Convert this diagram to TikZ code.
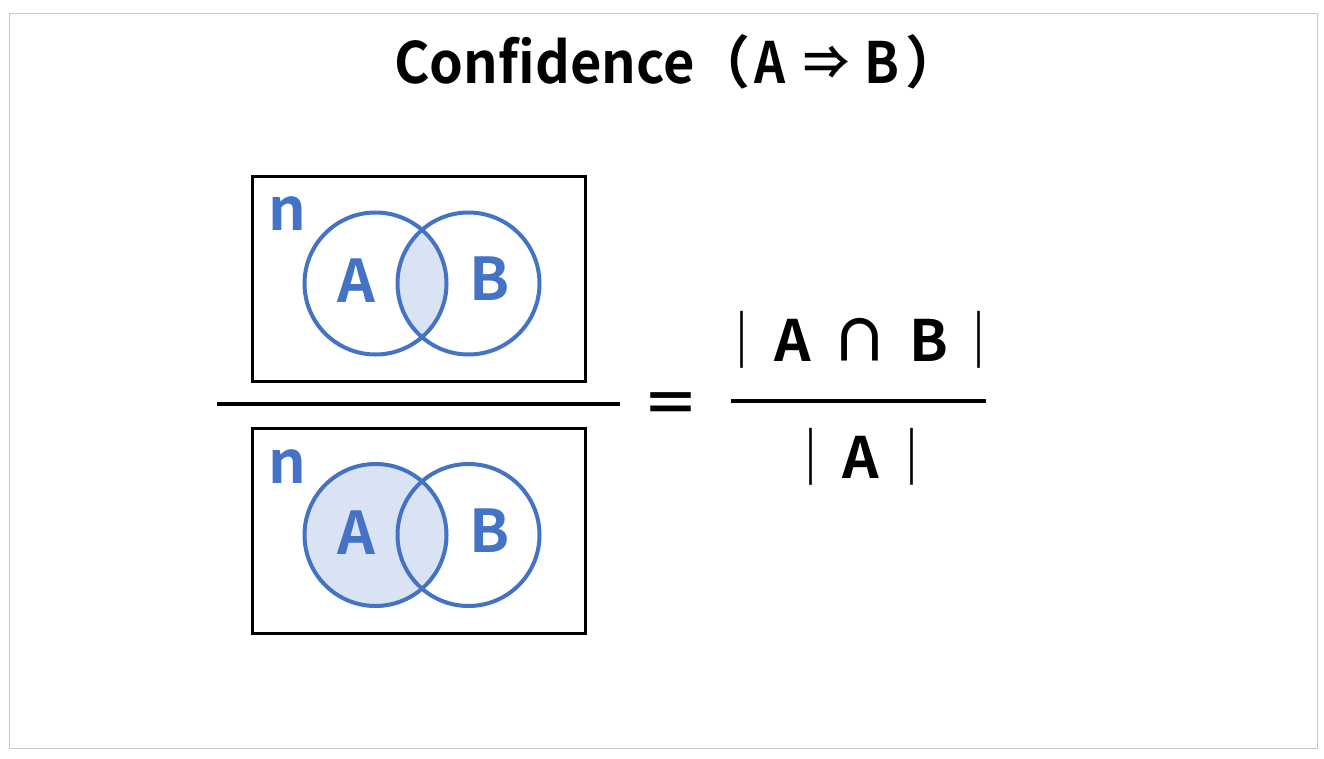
\documentclass[tikz,border=0pt]{standalone}
\usepackage{fontspec}
\setmainfont{Noto Sans CJK JP}[BoldFont={* Bold}]
\newfontfamily\jpbold{Noto Sans CJK JP Bold}
\definecolor{vennblue}{HTML}{4472C4}
\definecolor{vennfill}{HTML}{DAE3F3}
\definecolor{frame}{HTML}{C8C8C8}
\begin{document}
\begin{tikzpicture}[x=1pt,y=-1pt,
  setbox/.style={draw=black,line width=3pt},
  vcircle/.style={draw=vennblue,line width=4pt},
  vlabel/.style={text=vennblue,font=\jpbold\fontsize{59}{60}\selectfont,inner sep=0pt,anchor=base},
  blabel/.style={text=black,font=\jpbold\fontsize{57}{60}\selectfont,inner sep=0pt,anchor=base},
  fracline/.style={line width=4pt}]
\useasboundingbox (0,0) rectangle (1324,759);
\draw[frame,line width=1pt] (9.5,13.5) rectangle (1317.5,748.5);
% title
\node[blabel,xscale=0.95] (title) at (544.5,84) {Confidence};
\node[blabel] (tpo) at (722,84) {（};
\node[blabel,xscale=0.85] (ta) at (770,84) {A};
\node[blabel,font=\jpbold\fontsize{46}{50}\selectfont] (tarr) at (826,80) {⇒};
\node[blabel,xscale=0.9] (tb) at (882,84) {B};
\node[blabel] (tpc) at (934,84) {）};
% top set
\node[setbox,minimum width=333pt,minimum height=205pt,inner sep=0pt] (box1) at (418.5,279) {};
\begin{scope}
  \clip (375.5,283.5) circle (71);
  \fill[vennfill] (468.5,283.5) circle (71);
\end{scope}
\node[vcircle,circle,minimum size=142pt,inner sep=0pt] (a1) at (375.5,283.5) {};
\node[vcircle,circle,minimum size=142pt,inner sep=0pt] (b1) at (468.5,283.5) {};
\node[vlabel] (n1) at (287.5,231) {n};
\node[vlabel] (la1) at (356,302) {A};
\node[vlabel] (lb1) at (490,300) {B};
% bottom set
\node[setbox,minimum width=333pt,minimum height=205pt,inner sep=0pt] (box2) at (418.5,531) {};
\fill[vennfill] (375.5,535) circle (71);
\node[vcircle,circle,minimum size=142pt,inner sep=0pt] (a2) at (375.5,535) {};
\node[vcircle,circle,minimum size=142pt,inner sep=0pt] (b2) at (468.5,535) {};
\node[vlabel] (n2) at (287.5,483) {n};
\node[vlabel] (la2) at (356,554) {A};
\node[vlabel] (lb2) at (490,552) {B};
% left fraction line
\coordinate (l1) at (217,403.5);
\coordinate (l2) at (620,403.5);
\draw[fracline] (l1) -- (l2);
% equals
\node[blabel] (eq) at (670.5,424) {＝};
% right fraction
\coordinate (r1) at (731,401);
\coordinate (r2) at (986,401);
\draw[fracline] (r1) -- (r2);
\node[blabel] (bar1) at (742,361) {｜};
\node[blabel] (na) at (792.5,361) {A};
\node[blabel] (cap) at (860,361) {∩};
\node[blabel] (nb) at (929,361) {B};
\node[blabel] (bar2) at (979,361) {｜};
\node[blabel] (bar3) at (811,478) {｜};
\node[blabel] (da) at (861,478) {A};
\node[blabel] (bar4) at (912,478) {｜};
\end{tikzpicture}
\end{document}
